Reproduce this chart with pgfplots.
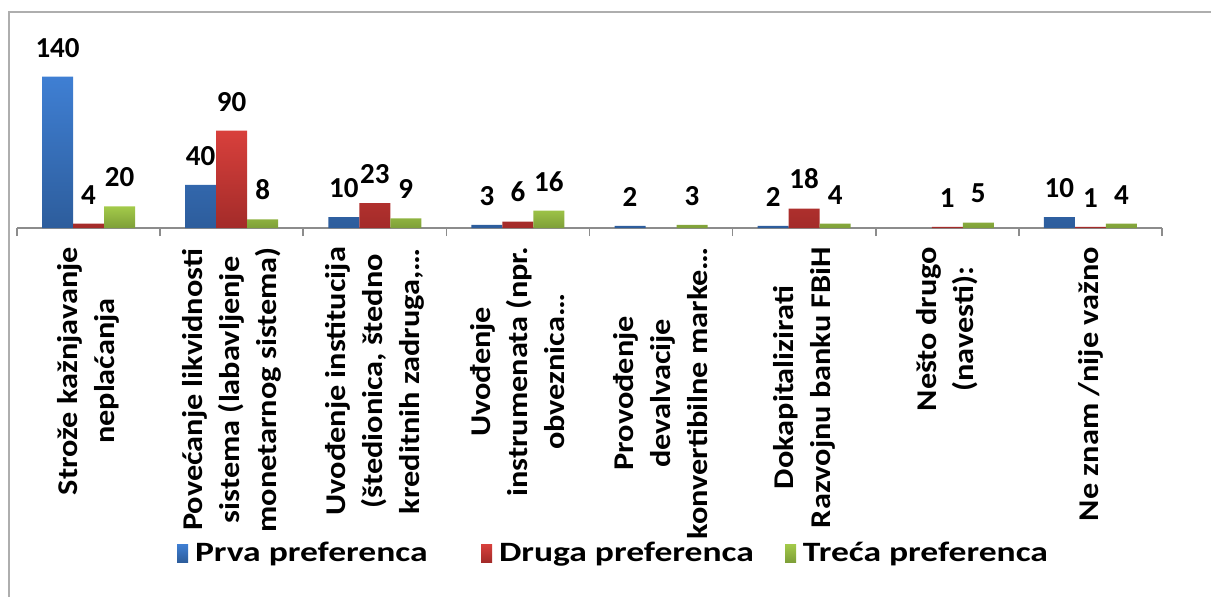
\documentclass[border=0pt]{standalone}
\usepackage{pgfplots}
\pgfplotsset{compat=1.18}
\usepackage{fontspec}
\setmainfont{Carlito}[FakeStretch=1.27]
\newfontfamily\ticklabelfont{Carlito}[FakeStretch=1.13]
\newfontfamily\plainfont{Carlito}
\definecolor{blueT}{HTML}{3F7FD3}
\definecolor{blueB}{HTML}{2D5D9C}
\definecolor{redT}{HTML}{D8403C}
\definecolor{redB}{HTML}{A32B29}
\definecolor{greenT}{HTML}{A3CA4A}
\definecolor{greenB}{HTML}{7E9F38}
\definecolor{axgray}{HTML}{8C8C8C}
\begin{document}
\begin{tikzpicture}[x=1pt,y=1pt]
\useasboundingbox (0,0) rectangle (605.5,298);
\draw[axgray!70, line width=0.9pt] (4.5,-5) -- (4.5,292) -- (620,292);
\begin{axis}[
  at={(8.5pt,184pt)}, anchor=south west,
  scale only axis, width=572.5pt, height=86.5pt,
  xmin=-0.5, xmax=7.5, ymin=0, ymax=160,
  ybar=0pt, bar width=15.5pt,
  hide y axis, axis x line*=bottom,
  axis line style={draw=axgray, line width=0.8pt, -},
  xtick={0,...,7},
  xticklabels={
    {Strože kažnjavanje\\neplaćanja},
    {Povećanje likvidnosti\\sistema (labavljenje\\monetarnog sistema)},
    {Uvođenje institucija\\(štedionica, štedno\\kreditnih zadruga,…},
    {Uvođenje\\instrumenata (npr.\\obveznica…},
    {Provođenje\\devalvacije\\konvertibilne marke…},
    {Dokapitalizirati\\Razvojnu banku FBiH},
    {Nešto drugo\\(navesti):},
    {Ne znam /nije važno}},
  major tick length=0pt,
  xticklabel style={rotate=90, anchor=east, align=center,
    font=\ticklabelfont\fontsize{14.3}{18.5}\selectfont\bfseries},
  xticklabel shift=6pt,
  extra x ticks={-0.5,0.5,...,7.5},
  extra x tick labels={,,,,,,,,},
  extra x tick style={major tick length=4pt, tick align=outside,
    tick style={draw=axgray, line width=0.8pt}},
  clip=false,
  /pgf/number format/assume math mode=true,
  nodes near coords,
  nodes near coords style={font=\plainfont\fontsize{14.5}{17}\selectfont\bfseries,
    inner sep=0pt, anchor=south, yshift=9.5pt, color=black},
  legend columns=3,
  legend style={at={(0.538,-1.879)}, anchor=center, draw=none, fill=none,
    font=\fontsize{14}{17}\selectfont\bfseries,
    /tikz/every even column/.append style={column sep=0pt},
    /tikz/every odd column/.append style={column sep=1.5pt}},
  legend image code/.code={\path[#1] (0pt,-4.5pt) rectangle (5.5pt,4.5pt);},
]
\addplot[draw=none, top color=blueT, bottom color=blueB]
  coordinates {(0,140) (1,40) (2,10) (3,3) (4,2) (5,2) (7,10)};
\addplot[draw=none, top color=redT, bottom color=redB]
  coordinates {(0,4) (1,90) (2,23) (3,6) (5,18) (6,1) (7,1)};
\addplot[draw=none, top color=greenT, bottom color=greenB]
  coordinates {(0,20) (1,8) (2,9) (3,16) (4,3) (5,4) (6,5) (7,4)};
\legend{\makebox[141pt][l]{Prva preferenca},
        \makebox[141pt][l]{Druga preferenca},
        \makebox[141pt][l]{Treća preferenca}}
\end{axis}
\end{tikzpicture}
\end{document}
